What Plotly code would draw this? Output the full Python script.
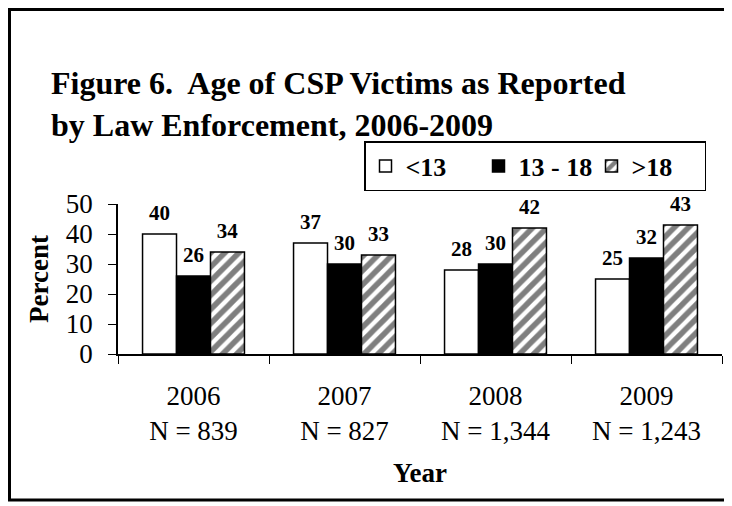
import plotly.graph_objects as go

years = ["2006", "2007", "2008", "2009"]
n_counts = ["839", "827", "1,344", "1,243"]
under13 = [40, 37, 28, 25]
age13_18 = [26, 30, 30, 32]
over18 = [34, 33, 42, 43]
series_names = ["<13", "13 - 18", ">18"]

categories = [f"{y}<br>N = {n}" for y, n in zip(years, n_counts)]

# figure size (page has an 8px body margin)
W, H = 724, 498
ML, MR, MT, MB = 110, 10, 196, 152
PW, PH = W - ML - MR, H - MT - MB

SERIF = "Liberation Serif"
LABEL_GAP = 2  # value-label lift above bar tops, in axis units
outline = dict(color="black", width=1.5)
hatch = dict(shape="/", fgcolor="black", bgcolor="white", size=10, solidity=0.55)

fig = go.Figure()
series = [
    (series_names[0], under13, dict(color="white", line=outline)),
    (series_names[1], age13_18, dict(color="black", line=outline)),
    (series_names[2], over18, dict(color="white", line=outline, pattern=hatch)),
]
for i, (name, vals, mk) in enumerate(series):
    fig.add_trace(go.Bar(x=categories, y=vals, name=name, marker=mk,
                         offsetgroup=str(i)))
for i, (name, vals, mk) in enumerate(series):
    # invisible helper so the value labels sit a little above each bar
    fig.add_trace(go.Bar(
        x=categories, y=[LABEL_GAP] * len(vals), base=vals, offsetgroup=str(i),
        marker=dict(color="rgba(0,0,0,0)", line=dict(width=0)),
        text=vals, textposition="outside", cliponaxis=False,
        textfont=dict(family=SERIF, size=21, color="black", weight="bold"),
        showlegend=False, hoverinfo="skip",
    ))

fig.update_layout(
    width=W, height=H,
    margin=dict(l=ML, r=MR, t=MT, b=MB),
    paper_bgcolor="white", plot_bgcolor="white",
    barmode="group", bargap=0.325, bargroupgap=0,
    font=dict(family=SERIF, color="black"),
    legend=dict(
        orientation="h",
        x=(356 - ML) / PW, xanchor="left",
        y=1 + (MT - 133) / PH, yanchor="top",
        bordercolor="black", borderwidth=1.5, bgcolor="white",
        font=dict(family=SERIF, size=26, color="black", weight="bold"),
        itemwidth=30, entrywidth=68, traceorder="normal",
    ),
    showlegend=True,
)
fig.add_annotation(
    text="Figure 6.&nbsp; Age of CSP Victims as Reported<br>by Law Enforcement, 2006-2009",
    xref="paper", yref="paper", align="left",
    x=(41 - ML) / PW, xanchor="left",
    y=1 + (MT - 55) / PH, yanchor="top",
    showarrow=False,
    font=dict(family=SERIF, size=32, color="black", weight="bold"),
)
fig.update_yaxes(
    range=[0, 50], tickvals=[0, 10, 20, 30, 40, 50],
    showgrid=False, zeroline=False,
    showline=True, linecolor="black", linewidth=1.5,
    ticks="outside", ticklen=8, tickcolor="black", ticklabelstandoff=10,
    tickfont=dict(family=SERIF, size=27, color="black"),
    title=dict(text="Percent", standoff=9,
               font=dict(family=SERIF, size=27, color="black", weight="bold")),
)
fig.update_xaxes(
    showgrid=False, showline=True, linecolor="black", linewidth=1.5,
    ticks="outside", ticklen=8, tickcolor="black", tickson="boundaries",
    ticklabelstandoff=17,
    tickfont=dict(family=SERIF, size=27, color="black"),
    title=dict(text="Year", standoff=18,
               font=dict(family=SERIF, size=27, color="black", weight="bold")),
)

# outer frame
fig.add_shape(type="rect", xref="paper", yref="paper",
              x0=(1.5 - ML) / PW, x1=(721 - ML) / PW,
              y0=-(492 - MT - PH) / PH, y1=1 + (MT - 1.5) / PH,
              line=dict(color="black", width=3), layer="below")

fig.write_html("out.html")
